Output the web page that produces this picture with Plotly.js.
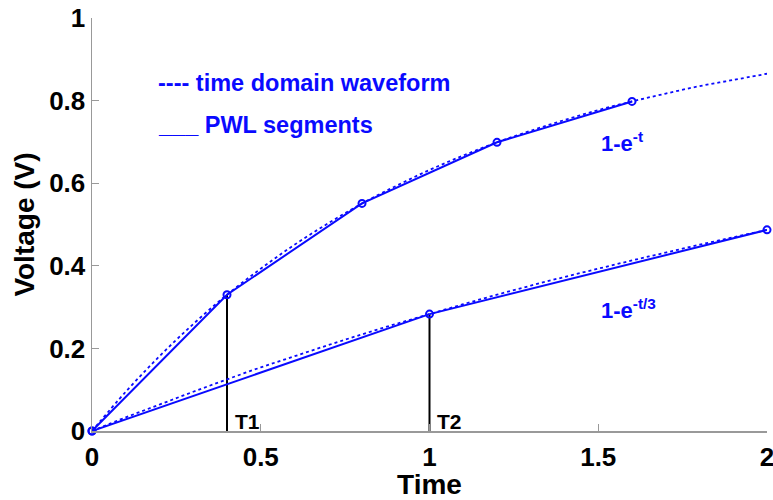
<!DOCTYPE html>
<html>
<head>
<meta charset="utf-8">
<script src="https://cdn.plot.ly/plotly-3.0.1.min.js"></script>
<style>html,body{margin:0;padding:0;background:#fff;}#chart{width:773px;height:500px;}</style>
</head>
<body>
<div id="chart"></div>
<script>
// time samples for the time-domain waveforms
const timeSamples = [0,0.1,0.2,0.3,0.4,0.5,0.6,0.7,0.8,0.9,1.0,1.1,1.2,1.3,1.4,1.5,1.6,1.7,1.8,1.9,2.0];
// 1-e^-t
const waveFast = [0,0.095,0.181,0.259,0.330,0.393,0.451,0.503,0.551,0.593,0.632,0.667,0.699,0.727,0.753,0.777,0.798,0.817,0.835,0.850,0.865];
// 1-e^(-t/3)
const waveSlow = [0,0.033,0.064,0.095,0.125,0.154,0.181,0.208,0.234,0.259,0.283,0.307,0.330,0.352,0.373,0.393,0.413,0.432,0.451,0.469,0.487];
// PWL breakpoints
const pwlFastT = [0,0.4,0.8,1.2,1.6];
const pwlFastV = [0,0.330,0.551,0.699,0.798];
const pwlSlowT = [0,1.0,2.0];
const pwlSlowV = [0,0.283,0.487];
// marker lines T1, T2
const t1X = [0.4,0.4], t1Y = [0,0.330];
const t2X = [1.0,1.0], t2Y = [0,0.283];
const xTicks = [0,0.5,1,1.5,2], xTickText = ['0','0.5','1','1.5','2'];
const yTicks = [0,0.2,0.4,0.6,0.8,1], yTickText = ['0','0.2','0.4','0.6','0.8','1'];

const blue = '#0a0aff';
const FONT = 'Liberation Sans, Arial, Helvetica, sans-serif';
const traces = [
  {x:t1X,y:t1Y,mode:'lines',line:{color:'#000',width:2},showlegend:false,hoverinfo:'skip'},
  {x:t2X,y:t2Y,mode:'lines',line:{color:'#000',width:2},showlegend:false,hoverinfo:'skip'},
  {x:timeSamples,y:waveFast,mode:'lines',line:{color:blue,width:1.8,dash:'dot',shape:'spline'},showlegend:false},
  {x:timeSamples,y:waveSlow,mode:'lines',line:{color:blue,width:1.8,dash:'dot',shape:'spline'},showlegend:false},
  {x:pwlFastT,y:pwlFastV,mode:'lines+markers',line:{color:blue,width:2},marker:{symbol:'circle-open',size:7,color:blue,line:{width:2,color:blue}},cliponaxis:false,showlegend:false},
  {x:pwlSlowT,y:pwlSlowV,mode:'lines+markers',line:{color:blue,width:2},marker:{symbol:'circle-open',size:7,color:blue,line:{width:2,color:blue}},cliponaxis:false,showlegend:false}
];

const tickFont = {family:FONT,size:26,color:'#000',weight:'bold'};
const titleFont = {family:FONT,size:28,color:'#000',weight:'bold'};
const layout = {
  width:773,height:500,
  margin:{l:92,r:6,t:18,b:69},
  paper_bgcolor:'#fff',plot_bgcolor:'#fff',
  font:{family:FONT},
  xaxis:{range:[0,2],tickvals:xTicks,ticktext:xTickText,ticks:'inside',ticklen:7,tickcolor:'#999',
    showline:true,linecolor:'#999',linewidth:1.5,showgrid:false,zeroline:false,
    tickfont:tickFont,ticklabelstandoff:2,ticklabeloverflow:'allow',
    title:{text:'<b>Time</b>',font:titleFont,standoff:2}},
  yaxis:{range:[0,1],tickvals:yTicks,ticktext:yTickText,ticks:'inside',ticklen:7,tickcolor:'#999',
    showline:true,linecolor:'#999',linewidth:1.5,showgrid:false,zeroline:false,
    tickfont:tickFont,ticklabelstandoff:0,ticklabeloverflow:'allow',
    title:{text:'<b>Voltage (V)</b>',font:titleFont,standoff:6}},
  annotations:[
    {xref:'paper',yref:'paper',x:0.095,y:0.843,xanchor:'left',yanchor:'middle',showarrow:false,
     text:'<b>---- time domain waveform</b>',font:{size:23.5,color:blue,family:FONT}},
    {xref:'paper',yref:'paper',x:0.095,y:0.742,xanchor:'left',yanchor:'middle',showarrow:false,
     text:'<b>___ PWL segments</b>',font:{size:23.5,color:blue,family:FONT}},
    {xref:'x',yref:'y',x:1.502,y:0.70,xanchor:'left',yanchor:'middle',showarrow:false,
     text:'<b>1-e<sup>-t</sup></b>',font:{size:22,color:blue,family:FONT}},
    {xref:'x',yref:'y',x:1.502,y:0.296,xanchor:'left',yanchor:'middle',showarrow:false,
     text:'<b>1-e<sup>-t/3</sup></b>',font:{size:22,color:blue,family:FONT}},
    {xref:'x',yref:'y',x:0.418,y:0.0,xanchor:'left',yanchor:'bottom',yshift:-4,showarrow:false,
     text:'<b>T1</b>',font:{size:21,color:'#000',family:FONT}},
    {xref:'x',yref:'y',x:1.016,y:0.0,xanchor:'left',yanchor:'bottom',yshift:-4,showarrow:false,
     text:'<b>T2</b>',font:{size:21,color:'#000',family:FONT}}
  ]
};
Plotly.newPlot('chart',traces,layout,{staticPlot:true,displayModeBar:false});
</script>
</body>
</html>
